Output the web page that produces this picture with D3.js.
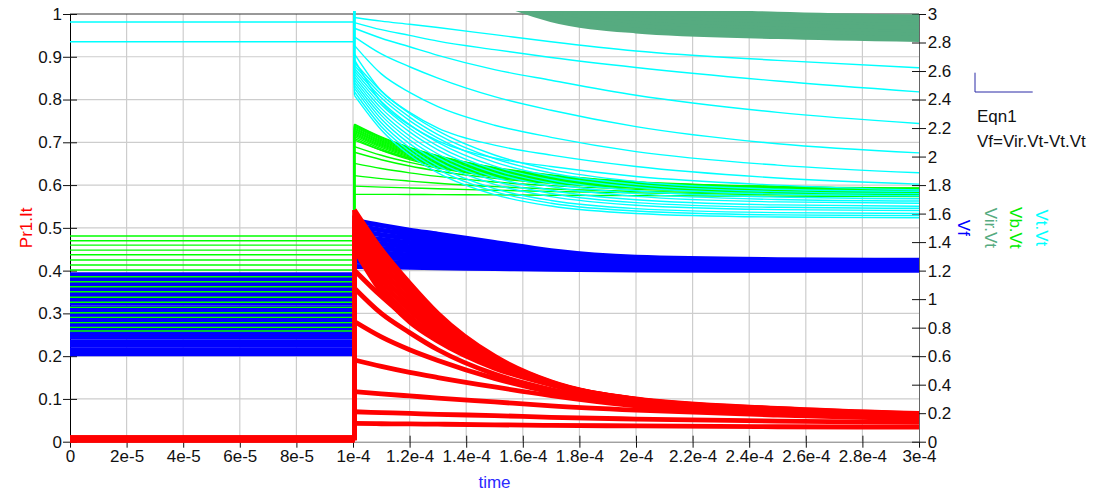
<!DOCTYPE html>
<html>
<head>
<meta charset="utf-8">
<title>Pr1.It / Vf transient</title>
<script src="https://cdn.jsdelivr.net/npm/d3@7"></script>
<style>
  body { margin: 0; background: #fff; }
  svg { display: block; font-family: "Liberation Sans", Arial, Helvetica, sans-serif; }
</style>
</head>
<body>
<svg id="mainsvg" width="1095" height="493"></svg>
<script>
// ticks
const xTicks = [0, 2e-5, 4e-5, 6e-5, 8e-5, 1e-4, 1.2e-4, 1.4e-4, 1.6e-4, 1.8e-4, 2e-4, 2.2e-4, 2.4e-4, 2.6e-4, 2.8e-4, 3e-4];
const xTickLabels = ["0", "2e-5", "4e-5", "6e-5", "8e-5", "1e-4", "1.2e-4", "1.4e-4", "1.6e-4", "1.8e-4", "2e-4", "2.2e-4", "2.4e-4", "2.6e-4", "2.8e-4", "3e-4"];
const leftTicks = [0, 0.1, 0.2, 0.3, 0.4, 0.5, 0.6, 0.7, 0.8, 0.9, 1];
const leftTickLabels = ["0", "0.1", "0.2", "0.3", "0.4", "0.5", "0.6", "0.7", "0.8", "0.9", "1"];
const rightTicks = [0, 0.2, 0.4, 0.6, 0.8, 1, 1.2, 1.4, 1.6, 1.8, 2, 2.2, 2.4, 2.6, 2.8, 3];
const rightTickLabels = ["0", "0.2", "0.4", "0.6", "0.8", "1", "1.2", "1.4", "1.6", "1.8", "2", "2.2", "2.4", "2.6", "2.8", "3"];

// the step happens at ~1e-4, samples of every swept trace after it
const stepTime = 1.005e-4;
const postTimes = [1.005e-4, 1.1e-4, 1.2e-4, 1.3e-4, 1.5e-4, 1.7e-4, 2e-4, 2.5e-4, 3e-4];

// Vt.Vt (cyan, right axis)
const vtBefore = [3.4, 2.944, 2.805, 3.4, 3.4, 3.4, 3.4, 3.4, 3.4, 3.4, 3.4, 3.4, 3.4, 3.4, 3.4, 3.4, 3.4, 3.4, 3.4];
const vtAfter = [
  [2.976, 2.95, 2.928, 2.905, 2.855, 2.805, 2.74, 2.675, 2.623],
  [2.94, 2.89, 2.85, 2.81, 2.75, 2.695, 2.625, 2.53, 2.454],
  [2.90, 2.83, 2.77, 2.71, 2.61, 2.535, 2.43, 2.31, 2.232],
  [2.84, 2.72, 2.63, 2.55, 2.42, 2.325, 2.21, 2.09, 2.026],
  [2.78, 2.58, 2.45, 2.35, 2.22, 2.135, 2.035, 1.94, 1.886],
  [2.72, 2.46, 2.31, 2.20, 2.08, 2.01, 1.93, 1.85, 1.807],
  [2.68, 2.38, 2.22, 2.11, 1.99, 1.93, 1.86, 1.80, 1.765],
  [2.66, 2.459, 2.302, 2.180, 2.011, 1.908, 1.825, 1.771, 1.756],
  [2.64, 2.435, 2.277, 2.154, 1.986, 1.885, 1.805, 1.754, 1.740],
  [2.62, 2.412, 2.252, 2.129, 1.961, 1.862, 1.785, 1.737, 1.725],
  [2.60, 2.387, 2.224, 2.100, 1.933, 1.836, 1.760, 1.716, 1.704],
  [2.58, 2.363, 2.199, 2.074, 1.908, 1.813, 1.740, 1.699, 1.688],
  [2.56, 2.338, 2.173, 2.047, 1.884, 1.790, 1.721, 1.682, 1.673],
  [2.54, 2.313, 2.144, 2.018, 1.855, 1.764, 1.697, 1.661, 1.652],
  [2.52, 2.289, 2.118, 1.992, 1.830, 1.741, 1.677, 1.644, 1.637],
  [2.50, 2.264, 2.091, 1.965, 1.805, 1.719, 1.659, 1.628, 1.622],
  [2.48, 2.237, 2.062, 1.934, 1.775, 1.692, 1.635, 1.607, 1.601],
  [2.455, 2.211, 2.037, 1.910, 1.754, 1.673, 1.618, 1.591, 1.586],
  [2.43, 2.187, 2.011, 1.886, 1.733, 1.653, 1.601, 1.576, 1.571]
];

// Vb.Vt (green, right axis)
const vbBefore = [1.443, 1.410, 1.379, 1.344, 1.311, 1.274, 1.239, 1.204, 1.157, 1.122, 1.087, 1.052, 1.013, 0.978, 0.942, 0.905, 0.872, 0.835, 0.802, 0.776];
const vbAfter = [
  [2.228, 2.138, 2.065, 2.007, 1.924, 1.871, 1.824, 1.791, 1.780],
  [2.222, 2.133, 2.061, 2.003, 1.921, 1.868, 1.821, 1.789, 1.778],
  [2.215, 2.126, 2.054, 1.997, 1.915, 1.863, 1.818, 1.786, 1.776],
  [2.208, 2.119, 2.048, 1.991, 1.910, 1.859, 1.814, 1.783, 1.774],
  [2.200, 2.111, 2.040, 1.984, 1.904, 1.854, 1.810, 1.781, 1.771],
  [2.192, 2.103, 2.033, 1.978, 1.899, 1.849, 1.807, 1.778, 1.769],
  [2.184, 2.096, 2.026, 1.971, 1.893, 1.844, 1.803, 1.775, 1.767],
  [2.176, 2.088, 2.019, 1.964, 1.887, 1.839, 1.799, 1.773, 1.765],
  [2.168, 2.080, 2.012, 1.957, 1.882, 1.835, 1.796, 1.770, 1.762],
  [2.160, 2.073, 2.004, 1.951, 1.876, 1.830, 1.792, 1.767, 1.760],
  [2.150, 2.064, 1.996, 1.943, 1.870, 1.825, 1.789, 1.765, 1.758],
  [2.140, 2.054, 1.988, 1.935, 1.863, 1.820, 1.784, 1.761, 1.755],
  [2.128, 2.044, 1.979, 1.928, 1.858, 1.816, 1.781, 1.759, 1.753],
  [2.116, 2.045, 1.987, 1.941, 1.873, 1.830, 1.792, 1.764, 1.755],
  [2.070, 2.009, 1.959, 1.919, 1.860, 1.821, 1.786, 1.759, 1.750],
  [2.030, 1.978, 1.934, 1.899, 1.847, 1.812, 1.779, 1.755, 1.745],
  [1.952, 1.916, 1.886, 1.861, 1.822, 1.796, 1.770, 1.749, 1.741],
  [1.866, 1.845, 1.828, 1.813, 1.789, 1.772, 1.756, 1.741, 1.735],
  [1.793, 1.786, 1.780, 1.774, 1.764, 1.755, 1.745, 1.733, 1.726],
  [1.735, 1.735, 1.734, 1.733, 1.731, 1.729, 1.726, 1.722, 1.720]
];

// Vf (blue, right axis)
const vfBefore = [1.158, 1.100, 1.041, 0.983, 0.924, 0.866, 0.806, 0.748, 0.689, 0.630];
const vfAfter = [
  [1.551, 1.516, 1.484, 1.456, 1.397, 1.340, 1.294, 1.277, 1.272],
  [1.516, 1.484, 1.456, 1.430, 1.377, 1.325, 1.284, 1.268, 1.264],
  [1.480, 1.452, 1.427, 1.404, 1.357, 1.311, 1.275, 1.261, 1.257],
  [1.444, 1.419, 1.397, 1.378, 1.336, 1.296, 1.264, 1.252, 1.249],
  [1.408, 1.387, 1.368, 1.351, 1.316, 1.281, 1.254, 1.244, 1.241],
  [1.372, 1.355, 1.339, 1.325, 1.296, 1.267, 1.245, 1.236, 1.234],
  [1.337, 1.323, 1.310, 1.299, 1.276, 1.253, 1.235, 1.228, 1.226],
  [1.301, 1.291, 1.281, 1.273, 1.255, 1.238, 1.225, 1.219, 1.218],
  [1.265, 1.258, 1.252, 1.247, 1.235, 1.224, 1.215, 1.212, 1.211],
  [1.229, 1.226, 1.223, 1.220, 1.215, 1.209, 1.205, 1.203, 1.203]
];

// Vir.Vt (sea green, right axis) - above 3 until ~1.6e-4
const virAfter = [
  [3.77, 3.65, 3.54, 3.44, 3.25, 3.115, 3.035, 2.995, 2.975],
  [3.75, 3.63, 3.52, 3.42, 3.23, 3.095, 3.015, 2.975, 2.955],
  [3.73, 3.61, 3.50, 3.40, 3.21, 3.075, 2.995, 2.955, 2.935],
  [3.71, 3.59, 3.48, 3.38, 3.19, 3.055, 2.975, 2.935, 2.915],
  [3.69, 3.57, 3.46, 3.36, 3.17, 3.035, 2.955, 2.915, 2.895],
  [3.665, 3.545, 3.435, 3.335, 3.145, 3.01, 2.93, 2.89, 2.87],
  [3.645, 3.525, 3.415, 3.315, 3.125, 2.99, 2.91, 2.87, 2.85],
  [3.62, 3.50, 3.39, 3.29, 3.10, 2.965, 2.885, 2.845, 2.825]
];

// Pr1.It (red, left axis)
const itBefore = [0.010, 0.0095, 0.009, 0.0085, 0.008, 0.0075, 0.007, 0.0065, 0.006, 0.0055, 0.005, 0.0045, 0.004, 0.0035, 0.003];
const itAfter = [
  [0.542, 0.450, 0.371, 0.300, 0.200, 0.140, 0.100, 0.078, 0.066],
  [0.529, 0.436, 0.358, 0.291, 0.196, 0.139, 0.099, 0.077, 0.065],
  [0.516, 0.421, 0.345, 0.281, 0.192, 0.138, 0.099, 0.076, 0.064],
  [0.503, 0.407, 0.332, 0.272, 0.188, 0.137, 0.098, 0.075, 0.063],
  [0.489, 0.393, 0.319, 0.263, 0.184, 0.136, 0.097, 0.075, 0.061],
  [0.476, 0.379, 0.306, 0.254, 0.180, 0.135, 0.096, 0.074, 0.060],
  [0.463, 0.364, 0.293, 0.244, 0.176, 0.134, 0.096, 0.073, 0.059],
  [0.450, 0.350, 0.280, 0.235, 0.172, 0.133, 0.095, 0.072, 0.058],
  [0.401, 0.340, 0.285, 0.245, 0.182, 0.135, 0.098, 0.074, 0.061],
  [0.359, 0.300, 0.255, 0.215, 0.158, 0.122, 0.090, 0.070, 0.060],
  [0.281, 0.245, 0.215, 0.190, 0.148, 0.116, 0.087, 0.068, 0.058],
  [0.191, 0.176, 0.162, 0.150, 0.128, 0.108, 0.084, 0.066, 0.056],
  [0.117, 0.112, 0.107, 0.102, 0.093, 0.084, 0.074, 0.062, 0.053],
  [0.070, 0.068, 0.066, 0.064, 0.061, 0.057, 0.053, 0.048, 0.045],
  [0.043, 0.042, 0.0415, 0.041, 0.0395, 0.038, 0.037, 0.035, 0.034]
];

const FONT = '"Liberation Sans", Arial, Helvetica, sans-serif';
const svg = d3.select('#mainsvg');

const x = d3.scaleLinear().domain([0, 3e-4]).range([70, 919]);
const yL = d3.scaleLinear().domain([0, 1]).range([441.7, 14]);
const yR = d3.scaleLinear().domain([0, 3]).range([441.7, 14]);

// grid
svg.append('g').selectAll('line').data(xTicks.slice(1, -1)).join('line')
    .attr('x1', d => x(d)).attr('x2', d => x(d))
    .attr('y1', yL(0)).attr('y2', yL(1))
    .attr('stroke', '#cdcdcd').attr('stroke-width', 1.2);
svg.append('g').selectAll('line').data(leftTicks.slice(1, -1)).join('line')
    .attr('x1', x(0)).attr('x2', x(3e-4))
    .attr('y1', d => yL(d)).attr('y2', d => yL(d))
    .attr('stroke', '#cdcdcd').attr('stroke-width', 1.2);

// frame top
svg.append('line')
    .attr('x1', x(0)).attr('x2', x(3e-4)).attr('y1', yL(1)).attr('y2', yL(1))
    .attr('stroke', '#333').attr('stroke-width', 1);

function styleAxis(g, lineColor) {
    g.attr('font-size', 17).attr('font-family', FONT);
    g.selectAll('text').attr('fill', '#111');
    g.selectAll('.tick line').attr('stroke', '#111');
    g.select('.domain').attr('stroke', lineColor);
}

// bottom axis (+ inner half of ticks)
svg.append('g').attr('transform', `translate(0,${yL(0)})`)
    .call(d3.axisBottom(x).tickValues(xTicks).tickFormat((d, i) => xTickLabels[i])
        .tickSizeInner(6).tickSizeOuter(0).tickPadding(2.3))
    .call(g => styleAxis(g, '#777'));
svg.append('g').attr('transform', `translate(0,${yL(0)})`)
    .call(d3.axisTop(x).tickValues(xTicks).tickFormat('').tickSizeInner(6).tickSizeOuter(0))
    .call(g => { g.select('.domain').remove(); g.selectAll('.tick line').attr('stroke', '#111'); });

// left axis
svg.append('g').attr('transform', `translate(${x(0)},0)`)
    .call(d3.axisLeft(yL).tickValues(leftTicks).tickFormat((d, i) => leftTickLabels[i])
        .tickSizeInner(7).tickSizeOuter(0).tickPadding(1))
    .call(g => styleAxis(g, '#000'));
svg.append('g').attr('transform', `translate(${x(0)},0)`)
    .call(d3.axisRight(yL).tickValues(leftTicks).tickFormat('').tickSizeInner(7).tickSizeOuter(0))
    .call(g => { g.select('.domain').remove(); g.selectAll('.tick line').attr('stroke', '#111'); });

// right axis
svg.append('g').attr('transform', `translate(${x(3e-4)},0)`)
    .call(d3.axisRight(yR).tickValues(rightTicks).tickFormat((d, i) => rightTickLabels[i])
        .tickSizeInner(7).tickSizeOuter(0).tickPadding(1.7))
    .call(g => styleAxis(g, '#666'));
svg.append('g').attr('transform', `translate(${x(3e-4)},0)`)
    .call(d3.axisLeft(yR).tickValues(rightTicks).tickFormat('').tickSizeInner(7).tickSizeOuter(0))
    .call(g => { g.select('.domain').remove(); g.selectAll('.tick line').attr('stroke', '#111'); });

// traces
svg.append('clipPath').attr('id', 'plotclip')
  .append('rect').attr('x', 66).attr('y', 11).attr('width', 856).attr('height', 434);
const traces = svg.append('g').attr('clip-path', 'url(#plotclip)').attr('fill', 'none');

function drawFamily(before, after, yScale, color, wPre, wStep, wPost) {
    const g = traces.append('g').attr('stroke', color);
    const lin = d3.line().x(d => x(d[0])).y(d => yScale(d[1]));
    const smooth = d3.line().x(d => x(d[0])).y(d => yScale(d[1])).curve(d3.curveMonotoneX);
    after.forEach((vals, i) => {
        if (before) {
            g.append('path').attr('stroke-width', wPre)
                .attr('d', lin([[0, before[i]], [stepTime, before[i]]]));
            g.append('path').attr('stroke-width', wStep)
                .attr('d', lin([[stepTime, before[i]], [stepTime, vals[0]]]));
        }
        g.append('path').attr('stroke-width', wPost).attr('stroke-linejoin', 'round')
            .attr('d', smooth(postTimes.map((t, j) => [t, vals[j]])));
    });
}

drawFamily(vfBefore, vfAfter, yR, '#0000ff', 8.6, 2.5, 5);
drawFamily(null, virAfter, yR, '#56ab80', 0, 0, 6);
drawFamily(vbBefore, vbAfter, yR, '#00ff00', 1.4, 1.4, 1.4);
drawFamily(vtBefore, vtAfter, yR, '#00ffff', 1.4, 1.4, 1.4);
drawFamily(itBefore, itAfter, yL, '#ff0000', 4.5, 4.5, 4.8);

// axis titles
svg.append('text')
    .attr('transform', `translate(31.5,${(yL(0) + yL(1)) / 2}) rotate(-90)`)
    .attr('text-anchor', 'middle').attr('font-size', 17).attr('font-family', FONT)
    .attr('fill', '#ff0000').text('Pr1.It');
svg.append('text')
    .attr('x', (x(0) + x(3e-4)) / 2).attr('y', 488)
    .attr('text-anchor', 'middle').attr('font-size', 17).attr('font-family', FONT)
    .attr('fill', '#2a2aff').text('time');

const rightLabels = ['Vf', 'Vir.Vt', 'Vb.Vt', 'Vt.Vt'];
const rightLabelColors = ['#0000ff', '#56ab80', '#00ee00', '#00ffff'];
const rightLabelX = [958, 985, 1010, 1036];
svg.append('g').selectAll('text').data(rightLabels).join('text')
    .attr('transform', (d, i) => `translate(${rightLabelX[i]},${(yR(0) + yR(3)) / 2}) rotate(90)`)
    .attr('text-anchor', 'middle').attr('font-size', 17).attr('font-family', FONT)
    .attr('fill', (d, i) => rightLabelColors[i])
    .text(d => d);

// legend
svg.append('path').attr('d', 'M975,72.7V92H1032.7')
    .attr('fill', 'none').attr('stroke', '#2b2ba6').attr('stroke-width', 1);
svg.append('text').attr('x', 977).attr('y', 122)
    .attr('font-size', 17).attr('font-family', FONT).attr('fill', '#111').text('Eqn1');
svg.append('text').attr('x', 977).attr('y', 147)
    .attr('font-size', 17).attr('font-family', FONT).attr('fill', '#111').text('Vf=Vir.Vt-Vt.Vt');
</script>
</body>
</html>
